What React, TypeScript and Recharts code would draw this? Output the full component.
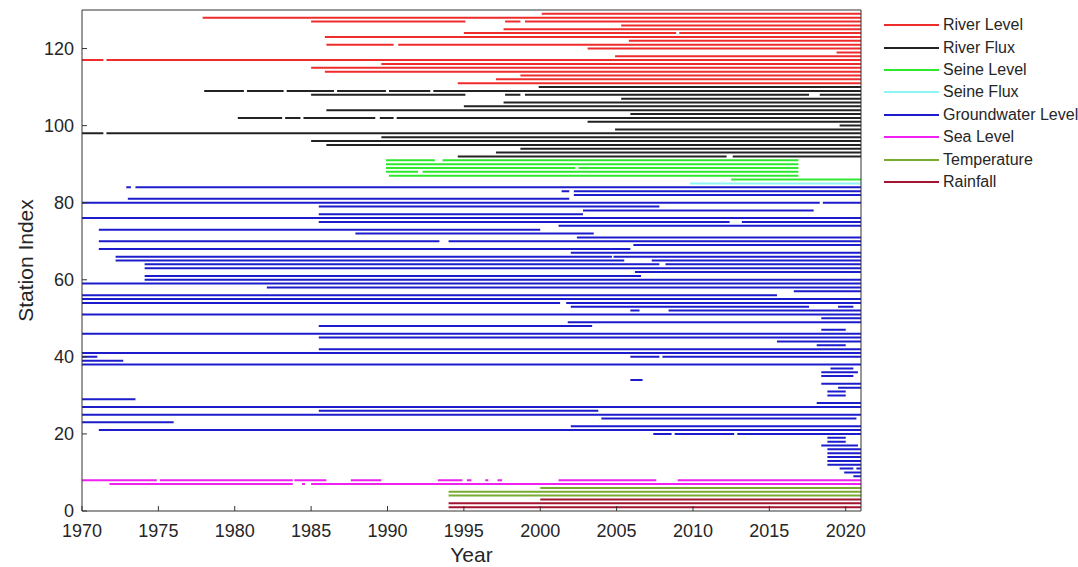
import { LineChart, Line, XAxis, YAxis, Legend, Label } from 'recharts';

// each row: [station index, [[start year, end year], ...]]
type Row = [number, number[][]];

const xTicks = [1970, 1975, 1980, 1985, 1990, 1995, 2000, 2005, 2010, 2015, 2020];
const yTicks = [0, 20, 40, 60, 80, 100, 120];

const riverLevel: Row[] = [
  [129, [[2000.1, 2021]]],
  [128, [[1977.9, 2021]]],
  [127, [[1985, 1995.1], [1997.7, 1998.7], [1999, 2021]]],
  [126, [[2005.3, 2021]]],
  [125, [[1997.6, 2021]]],
  [124, [[1995, 2008.9], [2009.1, 2021]]],
  [123, [[1985.9, 2021]]],
  [122, [[2005.8, 2021]]],
  [121, [[1986, 1990.4], [1990.7, 2021]]],
  [120, [[2003.1, 2021]]],
  [119, [[2019.4, 2021]]],
  [118, [[2004.9, 2021]]],
  [117, [[1970, 1971.4], [1971.6, 2021]]],
  [116, [[1989.6, 2021]]],
  [115, [[1985, 2021]]],
  [114, [[1985.9, 2021]]],
  [113, [[1998.7, 2021]]],
  [112, [[1997.1, 2021]]],
  [111, [[1994.6, 2021]]],
];

const riverFlux: Row[] = [
  [110, [[1999.9, 2021]]],
  [109, [[1978, 1980.6], [1980.8, 1983.2], [1983.4, 1986.5], [1986.7, 1989.9], [1990.1, 1992.8], [1993, 2021]]],
  [108, [[1985, 1995.1], [1997.7, 1998.7], [1999, 2017.6], [2018.3, 2021]]],
  [107, [[2005.3, 2021]]],
  [106, [[1997.6, 2021]]],
  [105, [[1995, 2021]]],
  [104, [[1986, 2021]]],
  [103, [[2005.9, 2021]]],
  [102, [[1980.2, 1983.1], [1983.3, 1984.3], [1984.5, 1989.2], [1989.5, 1990.4], [1990.6, 2021]]],
  [101, [[2003.1, 2021]]],
  [100, [[2019.6, 2021]]],
  [99, [[2004.9, 2021]]],
  [98, [[1970, 1971.4], [1971.6, 2021]]],
  [97, [[1989.6, 2021]]],
  [96, [[1985, 2021]]],
  [95, [[1986, 2021]]],
  [94, [[1998.7, 2021]]],
  [93, [[1997.1, 2021]]],
  [92, [[1994.6, 2012.2], [2012.6, 2021]]],
];

const seineLevel: Row[] = [
  [91, [[1989.9, 1993.1], [1993.6, 2016.9]]],
  [90, [[1989.9, 2016.9]]],
  [89, [[1989.9, 2002.3], [2002.5, 2016.9]]],
  [88, [[1989.9, 1992], [1992.3, 2016.9]]],
  [87, [[1990.1, 2016.9]]],
  [86, [[2012.5, 2021]]],
];

const seineFlux: Row[] = [
  [85, [[2009.8, 2021]]],
];

const groundwater: Row[] = [
  [84, [[1972.9, 1973.2], [1973.5, 2021]]],
  [83, [[2001.4, 2001.9], [2002.2, 2021]]],
  [82, [[2002.2, 2021]]],
  [81, [[1973, 2001.9]]],
  [80, [[1970, 2018.3], [2018.5, 2021]]],
  [79, [[1985.5, 2007.8]]],
  [78, [[2002.8, 2017.9]]],
  [77, [[1985.5, 2002.8]]],
  [76, [[1970, 2021]]],
  [75, [[1985.5, 2012.4], [2013.2, 2021]]],
  [74, [[2001.2, 2021]]],
  [73, [[1971.1, 2000]]],
  [72, [[1987.9, 2003.5]]],
  [71, [[2002.4, 2021]]],
  [70, [[1971.1, 1993.4], [1994, 2021]]],
  [69, [[2006.1, 2021]]],
  [68, [[1971.1, 2005.9]]],
  [67, [[2002, 2021]]],
  [66, [[1972.2, 2004.7], [2004.8, 2021]]],
  [65, [[1972.2, 2005.5], [2007.3, 2021]]],
  [64, [[1974.1, 2007.8], [2008.2, 2021]]],
  [63, [[1974.1, 2021]]],
  [62, [[2006.2, 2021]]],
  [61, [[1974.1, 2006.6]]],
  [60, [[1974.1, 2021]]],
  [59, [[1970, 2021]]],
  [58, [[1982.1, 2021]]],
  [57, [[2016.6, 2021]]],
  [56, [[1970, 2015.5]]],
  [55, [[1970, 2021]]],
  [54, [[1970, 2001.3], [2001.7, 2021]]],
  [53, [[2002, 2017.6], [2019.5, 2020.5]]],
  [52, [[2005.9, 2006.5], [2008.4, 2021]]],
  [51, [[1970, 2021]]],
  [50, [[2018.4, 2021]]],
  [49, [[2001.8, 2021]]],
  [48, [[1985.5, 2003.4]]],
  [47, [[2018.4, 2020]]],
  [46, [[1970, 2021]]],
  [45, [[1985.5, 2021]]],
  [44, [[2015.5, 2021]]],
  [43, [[2018.1, 2020]]],
  [42, [[1985.5, 2021]]],
  [41, [[1970, 2021]]],
  [40, [[1970, 1971], [2005.9, 2007.8], [2008, 2021]]],
  [39, [[1970, 1972.7]]],
  [38, [[1970, 2021]]],
  [37, [[2019, 2020.5]]],
  [36, [[2018.4, 2020.8]]],
  [35, [[2018.4, 2020.5]]],
  [34, [[2005.9, 2006.7]]],
  [33, [[2018.4, 2021]]],
  [32, [[2019.5, 2021]]],
  [31, [[2018.8, 2020]]],
  [30, [[2018.8, 2020]]],
  [29, [[1970, 1973.5]]],
  [28, [[2018.1, 2021]]],
  [27, [[1970, 2021]]],
  [26, [[1985.5, 2003.8]]],
  [25, [[1970, 2021]]],
  [24, [[2004, 2020.7]]],
  [23, [[1970, 1976]]],
  [22, [[2002, 2021]]],
  [21, [[1971.1, 2021]]],
  [20, [[2007.4, 2008.6], [2008.8, 2012.7], [2012.9, 2021]]],
  [19, [[2018.8, 2020]]],
  [18, [[2018.8, 2020]]],
  [17, [[2018.4, 2020.8]]],
  [16, [[2018.8, 2021]]],
  [15, [[2018.8, 2021]]],
  [14, [[2018.8, 2021]]],
  [13, [[2018.8, 2021]]],
  [12, [[2018.8, 2021]]],
  [11, [[2019.6, 2020.5], [2020.7, 2021]]],
  [10, [[2019.9, 2021]]],
  [9, [[2020.5, 2021]]],
];

const seaLevel: Row[] = [
  [8, [[1970, 1974.9], [1975.1, 1983.8], [1983.9, 1986], [1987.6, 1989.6], [1993.3, 1994.9], [1995.2, 1995.5], [1996.4, 1996.6], [1997.2, 1997.5], [2001.2, 2007.6], [2009, 2021]]],
  [7, [[1971.8, 1983.8], [1984.4, 1984.6], [1985, 2021]]],
];

const temperature: Row[] = [
  [6, [[2000, 2021]]],
  [5, [[1994, 2021]]],
  [4, [[1994, 2021]]],
];

const rainfall: Row[] = [
  [3, [[2000, 2021]]],
  [2, [[1994, 2021]]],
  [1, [[1994, 2021]]],
];

const seriesList = [
  { name: 'River Level', color: '#ee2c2c', rows: riverLevel },
  { name: 'River Flux', color: '#222222', rows: riverFlux },
  { name: 'Seine Level', color: '#2ee82e', rows: seineLevel },
  { name: 'Seine Flux', color: '#8ef4f4', rows: seineFlux },
  { name: 'Groundwater Level', color: '#1c1ccc', rows: groundwater },
  { name: 'Sea Level', color: '#f020f0', rows: seaLevel },
  { name: 'Temperature', color: '#77ac30', rows: temperature },
  { name: 'Rainfall', color: '#a2142f', rows: rainfall },
];

// flatten segments into one polyline per series, broken by null points
function toPoints(rows: Row[]) {
  const pts: { x: number; y: number | null }[] = [];
  rows.forEach(([idx, segs]) => {
    segs.forEach(([s, e]) => {
      pts.push({ x: s, y: idx }, { x: e, y: idx }, { x: e, y: null });
    });
  });
  return pts;
}

const LegendBox = () => (
  <div style={{ fontSize: 16, color: '#262626' }}>
    {seriesList.map(s => (
      <div key={s.name} style={{ display: 'flex', alignItems: 'center', height: 22.4, whiteSpace: 'nowrap' }}>
        <svg width={59} height={4} style={{ flexShrink: 0 }}>
          <line x1={0} y1={2} x2={55} y2={2} stroke={s.color} strokeWidth={2} />
        </svg>
        <span>{s.name}</span>
      </div>
    ))}
  </div>
);

export default function App() {
  const axisColor = '#333';
  return (
    <div style={{ position: 'absolute', left: 0, top: 0, width: 1078, height: 567, overflow: 'hidden', background: '#fff', fontFamily: '"Liberation Sans", Arial, sans-serif' }}>
      <LineChart width={1078} height={567} margin={{ top: 9, right: 216, bottom: 0, left: 12 }}>
        <XAxis
          type="number"
          dataKey="x"
          domain={[1970, 2021]}
          ticks={xTicks}
          interval={0}
          allowDataOverflow
          height={56}
          tickSize={-5}
          tickMargin={18}
          stroke={axisColor}
          tick={{ fontSize: 18, fill: '#262626' }}
        >
          <Label value="Year" position="insideBottom" offset={5} style={{ fontSize: 21, fill: '#262626' }} />
        </XAxis>
        <XAxis
          xAxisId="top"
          orientation="top"
          type="number"
          domain={[1970, 2021]}
          ticks={xTicks}
          interval={0}
          allowDataOverflow
          height={1}
          tickSize={-5}
          tick={false}
          stroke={axisColor}
        />
        <YAxis
          type="number"
          domain={[0, 130]}
          ticks={yTicks}
          interval={0}
          allowDataOverflow
          width={70}
          tickSize={-5}
          tickMargin={13}
          stroke={axisColor}
          tick={{ fontSize: 18, fill: '#262626' }}
        >
          <Label value="Station Index" angle={-90} position="insideLeft" offset={14} style={{ fontSize: 21, fill: '#262626', textAnchor: 'middle' }} />
        </YAxis>
        <YAxis
          yAxisId="right"
          orientation="right"
          type="number"
          domain={[0, 130]}
          ticks={yTicks}
          interval={0}
          allowDataOverflow
          width={1}
          tickSize={-5}
          tick={false}
          stroke={axisColor}
        />
        <Legend
          layout="horizontal"
          verticalAlign="middle"
          content={<LegendBox />}
          wrapperStyle={{ left: 884, top: 14, width: 220 }}
        />
        {seriesList.map(s => (
          <Line
            key={s.name}
            name={s.name}
            data={toPoints(s.rows)}
            dataKey="y"
            stroke={s.color}
            strokeWidth={2}
            dot={false}
            activeDot={false}
            connectNulls={false}
            isAnimationActive={false}
          />
        ))}
      </LineChart>
    </div>
  );
}
